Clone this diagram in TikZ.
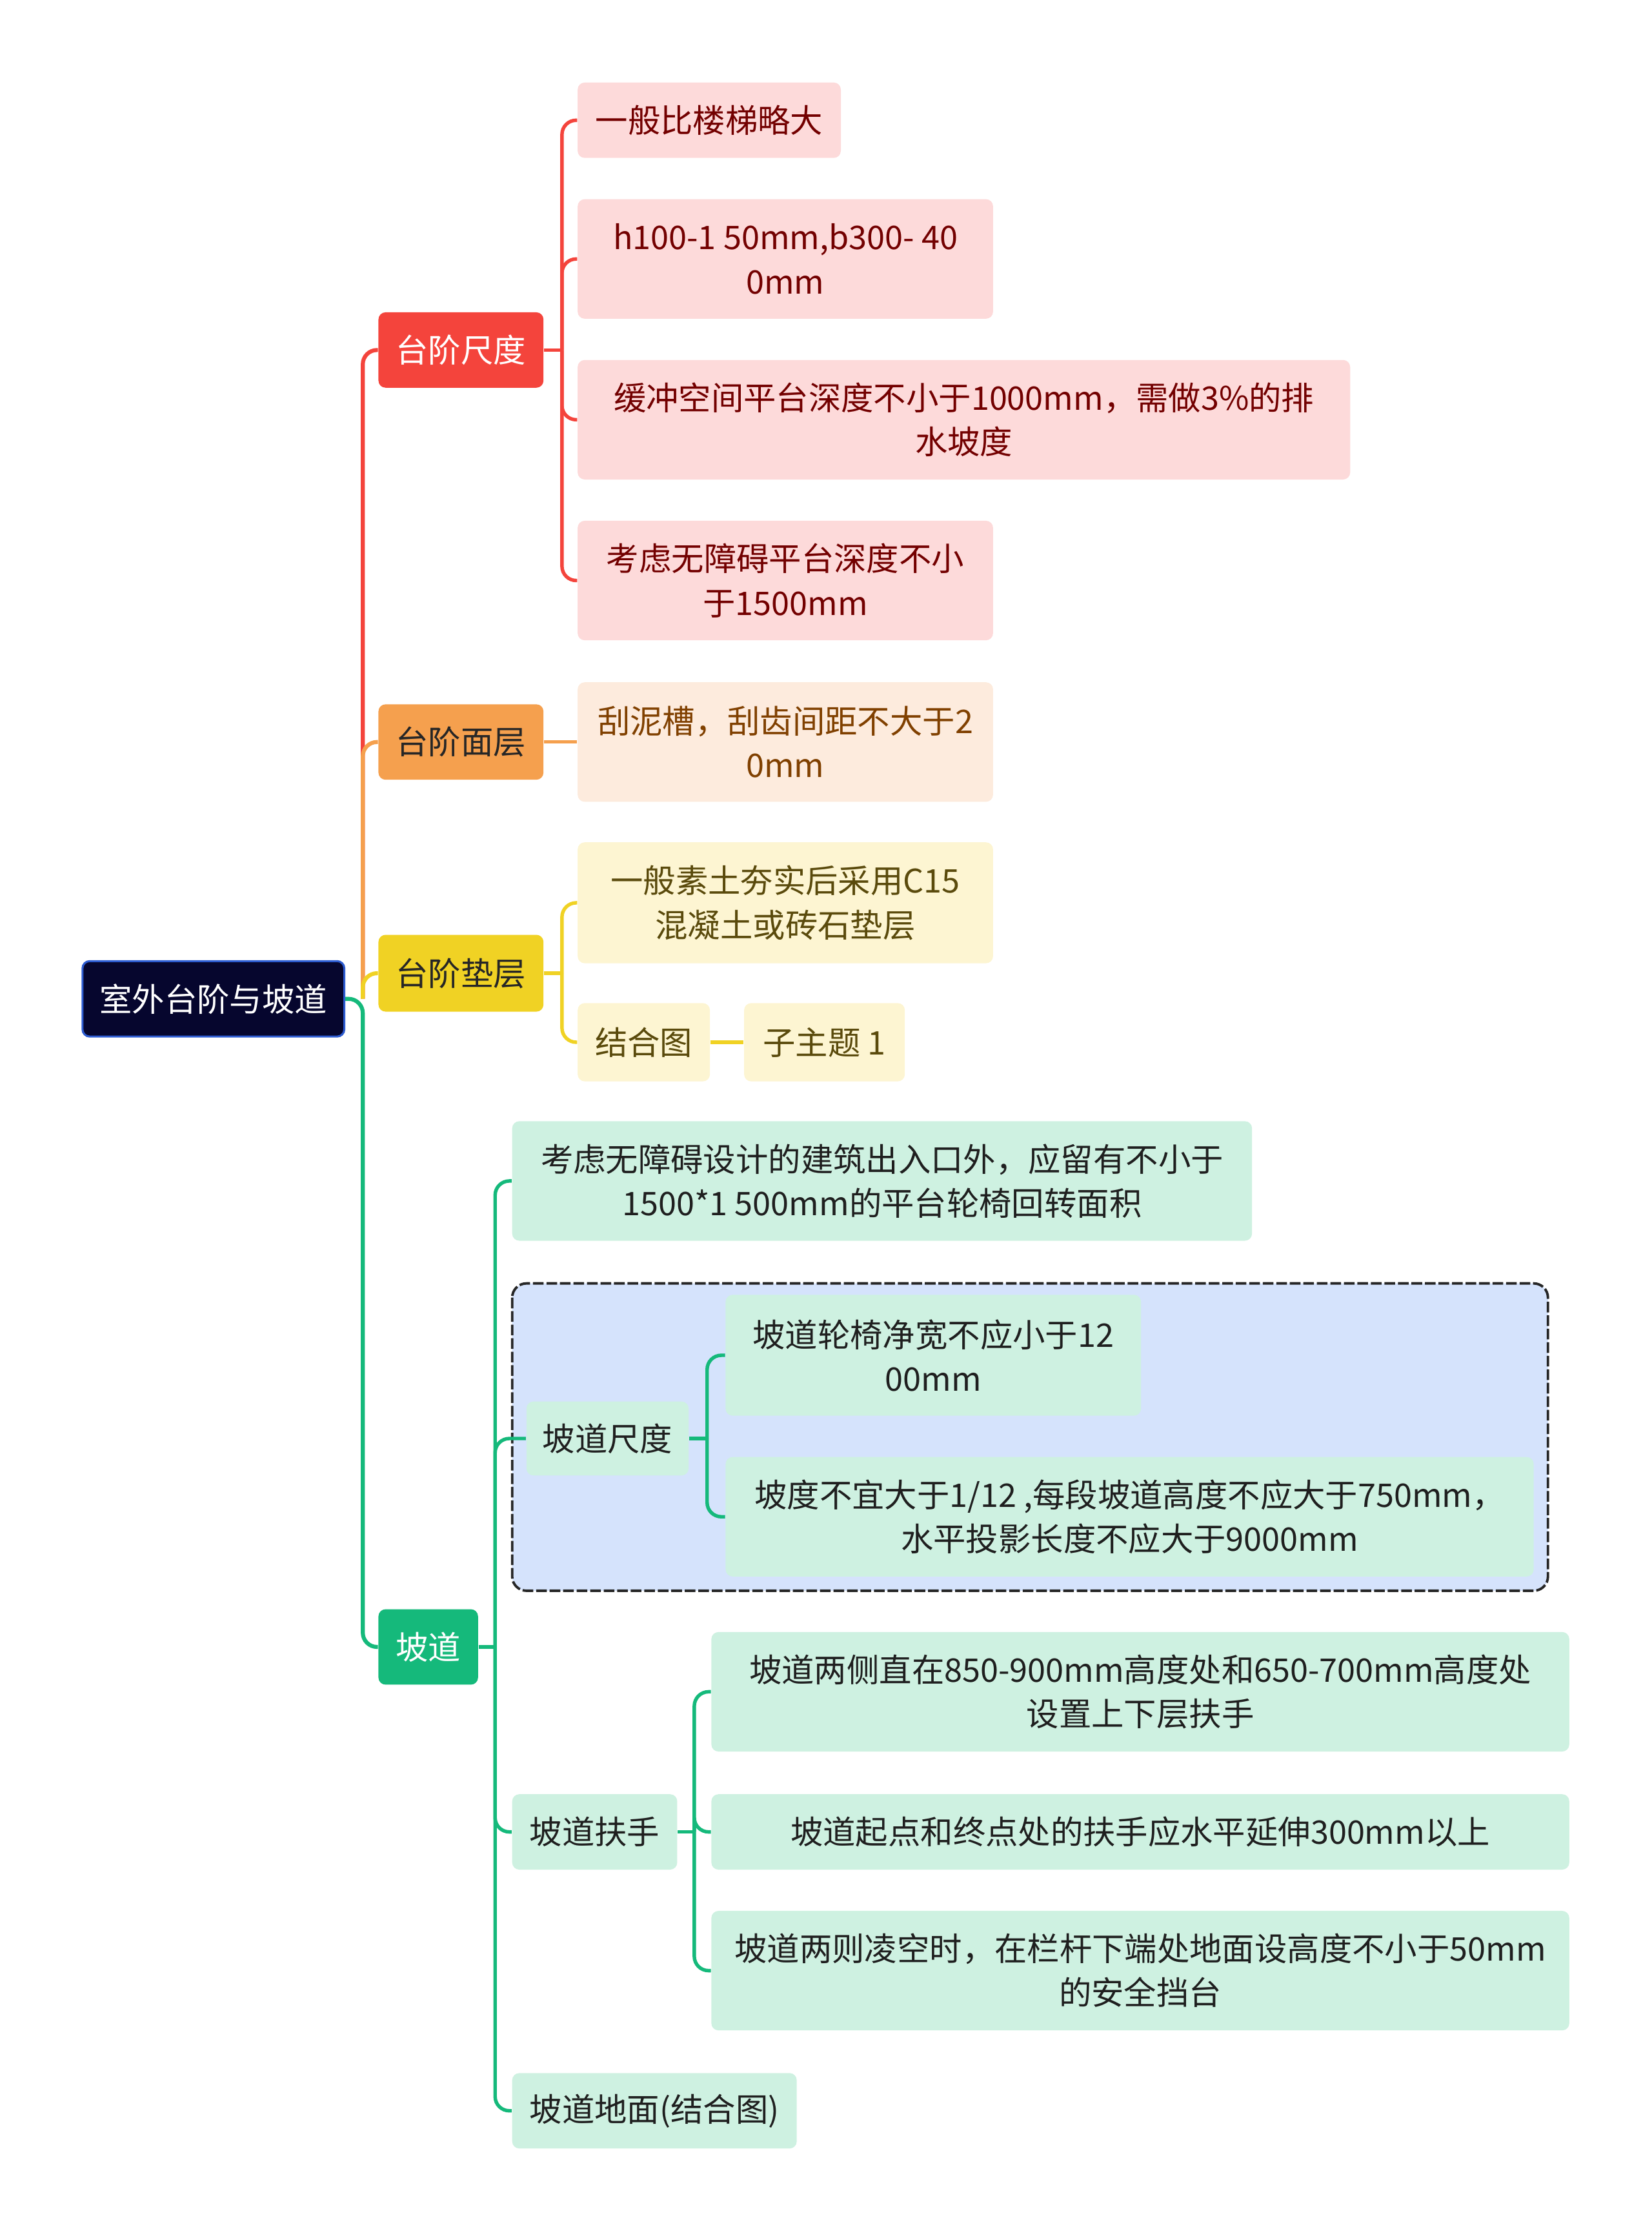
\documentclass[tikz,border=0pt]{standalone}
\usepackage{fontspec}
\setmainfont{Noto Sans CJK SC}
\usetikzlibrary{positioning}

\definecolor{rootfill}{HTML}{06062E}
\definecolor{rootedge}{HTML}{2C5BD0}
\definecolor{redc}{HTML}{F4443C}
\definecolor{orangec}{HTML}{F5A04E}
\definecolor{yellowc}{HTML}{F0D224}
\definecolor{greenc}{HTML}{15B97B}
\definecolor{pinkfill}{HTML}{FDDADA}
\definecolor{peachfill}{HTML}{FDEBDD}
\definecolor{creamfill}{HTML}{FDF5D2}
\definecolor{mintfill}{HTML}{CEF1E1}
\definecolor{groupfill}{HTML}{D5E3FC}
\definecolor{olivetext}{HTML}{5A4A0C}

\begin{document}
\begin{tikzpicture}[
    x=1mm, y=-1mm,
    font=\fontsize{13}{17.6}\selectfont,
    wh/.style 2 args={minimum width=#1mm, minimum height=#2mm},
    box/.style={rounded corners=1mm, align=center, inner sep=0pt},
    rootbox/.style={box, draw=rootedge, line width=0.8pt, fill=rootfill, text=white},
    mainred/.style={box, fill=redc, text=white},
    mainorange/.style={box, fill=orangec, text=black!85},
    mainyellow/.style={box, fill=yellowc, text=black!85},
    maingreen/.style={box, fill=greenc, text=white},
    pinkbox/.style={box, fill=pinkfill, text=red!45!black},
    peachbox/.style={box, fill=peachfill, text=orange!50!black},
    creambox/.style={box, fill=creamfill, text=olivetext},
    mintbox/.style={box, fill=mintfill, text=black!88},
    groupbox/.style={draw=black!85, dash pattern=on 1.5mm off 0.4mm, line width=1pt, fill=groupfill, rounded corners=2mm},
    link/.style={line width=1.4pt, rounded corners=2mm},
    redline/.style={link, draw=redc},
    orangeline/.style={link, draw=orangec},
    yellowline/.style={link, draw=yellowc},
    greenline/.style={link, draw=greenc}
]
\useasboundingbox (0,0) rectangle (232.2,313.6);

% dashed group round the ramp size branch
\draw[groupbox] (72,180.4) rectangle (217.6,223.6);

% root and main topics
\node[rootbox, wh={36.8}{10.6}] (root) at (30,140.4) {室外台阶与坡道};
\node[mainred, wh={23.2}{10.6}] (size) at (64.8,49.2) {台阶尺度};
\node[mainorange, wh={23.2}{10.6}] (surface) at (64.8,104.3) {台阶面层};
\node[mainyellow, wh={23.2}{10.8}] (base) at (64.8,136.8) {台阶垫层};
\node[maingreen, wh={14}{10.6}] (ramp) at (60.2,231.5) {坡道};

% step size
\node[pinkbox, wh={37}{10.6}] (size1) at (99.7,16.9) {一般比楼梯略大};
\node[pinkbox, wh={58.4}{16.8}] (size2) at (110.4,36.4) {h100-1 50mm,b300- 40\\0mm};
\node[pinkbox, wh={108.6}{16.8}] (size3) at (135.5,59) {缓冲空间平台深度不小于1000mm，需做3\%的排\\水坡度};
\node[pinkbox, wh={58.4}{16.8}] (size4) at (110.4,81.6) {考虑无障碍平台深度不小\\于1500mm};

% step surface
\node[peachbox, wh={58.4}{16.8}] (surface1) at (110.4,104.3) {刮泥槽，刮齿间距不大于2\\0mm};

% step base
\node[creambox, wh={58.4}{17}] (base1) at (110.4,126.9) {一般素土夯实后采用C15\\混凝土或砖石垫层};
\node[creambox, wh={18.6}{11}] (base2) at (90.5,146.5) {结合图};
\node[creambox, wh={22.6}{11}] (base3) at (115.9,146.5) {子主题 1};

% ramp
\node[mintbox, wh={104}{16.8}] (ramp1) at (124,166) {考虑无障碍设计的建筑出入口外，应留有不小于\\1500*1 500mm的平台轮椅回转面积};
\node[mintbox, wh={22.8}{10.4}] (rampsize) at (85.4,202.2) {坡道尺度};
\node[mintbox, wh={58.4}{17}] (rampsize1) at (131.2,190.5) {坡道轮椅净宽不应小于12\\00mm};
\node[mintbox, wh={113.6}{16.8}] (rampsize2) at (158.8,213.2) {坡度不宜大于1/12 ,每段坡道高度不应大于750mm，\\水平投影长度不应大于9000mm};
\node[mintbox, wh={23.2}{10.6}] (rail) at (83.6,257.5) {坡道扶手};
\node[mintbox, wh={120.6}{16.8}] (rail1) at (160.3,237.8) {坡道两侧直在850-900mm高度处和650-700mm高度处\\设置上下层扶手};
\node[mintbox, wh={120.6}{10.6}] (rail2) at (160.3,257.5) {坡道起点和终点处的扶手应水平延伸300mm以上};
\node[mintbox, wh={120.6}{16.8}] (rail3) at (160.3,277) {坡道两则凌空时，在栏杆下端处地面设高度不小于50mm\\的安全挡台};
\node[mintbox, wh={40}{10.6}] (floor) at (92,296.7) {坡道地面(结合图)};

% joints
\coordinate (rootj) at (51,140.4);
\coordinate (sizej) at (79,49.2);
\coordinate (basej) at (79,136.8);
\coordinate (rampj) at (69.6,231.5);
\coordinate (rampsizej) at (99.4,202.2);
\coordinate (railj) at (97.6,257.5);

% trunk
\draw[redline, line width=1.6pt] (rootj) |- (size.west);
\draw[orangeline, line width=1.6pt] (rootj) |- (surface.west);
\draw[yellowline, line width=1.6pt] (rootj) |- (base.west);
\draw[greenline, line width=1.6pt] (root.east) -- (rootj) |- (ramp.west);

% branches
\draw[redline] (size.east) -- (sizej);
\foreach \c in {size1,size2,size3,size4}
    \draw[redline] (sizej) |- (\c.west);
\draw[orangeline] (surface.east) -- (surface1.west);
\draw[yellowline] (base.east) -- (basej);
\foreach \c in {base1,base2}
    \draw[yellowline] (basej) |- (\c.west);
\draw[yellowline] (base2.east) -- (base3.west);
\draw[greenline] (ramp.east) -- (rampj);
\foreach \c in {ramp1,rampsize,rail,floor}
    \draw[greenline] (rampj) |- (\c.west);
\draw[greenline] (rampsize.east) -- (rampsizej);
\foreach \c in {rampsize1,rampsize2}
    \draw[greenline] (rampsizej) |- (\c.west);
\draw[greenline] (rail.east) -- (railj);
\foreach \c in {rail1,rail2,rail3}
    \draw[greenline] (railj) |- (\c.west);
\end{tikzpicture}
\end{document}
